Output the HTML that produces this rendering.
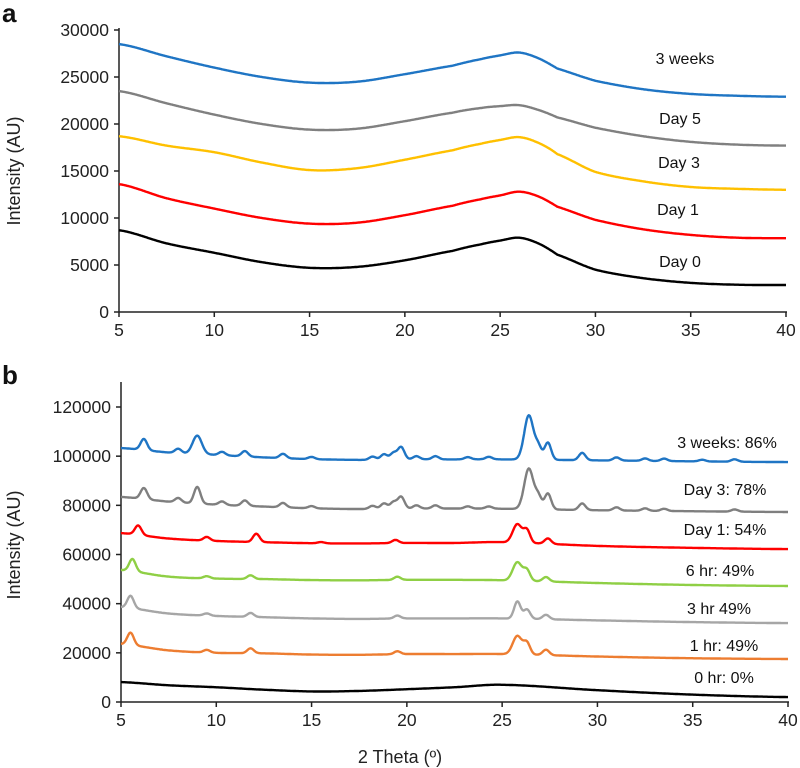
<!DOCTYPE html>
<html><head><meta charset="utf-8"><style>
html,body{margin:0;padding:0;background:#fff;}
svg{display:block;font-family:"Liberation Sans",Arial,sans-serif;}
</style></head><body>
<svg id="chart" width="800" height="768" viewBox="0 0 800 768"></svg>
<script>
// ---------- Panel a data ----------
const aKnots = [5,7.5,10,12.5,15,17.5,20,22.5,24,25,26,27,28,30,32.5,35,37.5,40];
const aNames = ["3 weeks","Day 5","Day 3","Day 1","Day 0"];
const a3weeks = [28500,27200,26000,25000,24400,24500,25300,26200,26900,27300,27600,27000,25900,24600,23700,23200,23000,22900];
const aDay5 = [23500,22200,21000,20000,19400,19500,20300,21200,21700,21900,22000,21500,20700,19600,18700,18100,17800,17700];
const aDay3 = [18700,17700,17000,15900,15100,15300,16200,17200,17900,18300,18600,18000,16800,14900,13900,13300,13100,13000];
const aDay1 = [13600,12100,11000,10000,9400,9500,10300,11300,12000,12400,12800,12300,11200,9800,8800,8200,7900,7850];
const aDay0 = [8700,7300,6300,5300,4700,4800,5500,6500,7200,7600,7900,7300,6100,4500,3600,3100,2900,2870];
const aYTicks = [0,5000,10000,15000,20000,25000,30000];
const xTicks = [5,10,15,20,25,30,35,40];

// ---------- Panel b data ----------
const bKnots = [5,7.5,10,12.5,15,17.5,20,22.5,25,30,35,40];
const bNames = ["3 weeks: 86%","Day 3: 78%","Day 1: 54%","6 hr: 49%","3 hr 49%","1 hr: 49%","0 hr: 0%"];
const b3wBase = [103300,101500,100500,99500,98800,98500,98700,98700,98700,98300,97900,97600];
const bD3Base = [83400,81500,80300,79500,78800,78500,78700,78700,78600,78000,77600,77300];
const bD1Base = [68700,66500,65500,65000,64600,64500,64700,64700,65000,63500,62700,62200];
const b6hBase = [53700,51000,50200,50000,49600,49500,49700,49700,49500,48400,47600,47200];
const b3hBase = [38600,36000,35000,34500,34000,33800,34000,34000,34000,33200,32500,32100];
const b1hBase = [23600,21000,20000,19800,19300,19200,19500,19500,19500,18500,17800,17500];
const b0hBase = [8100,6800,6000,5000,4300,4500,5200,6000,7000,4800,3000,2000];
const b3wPos = [6.2,8.0,9.0,10.3,11.5,13.5,15.0,18.2,18.8,19.3,19.7,20.5,21.5,23.2,24.3,26.4,26.9,27.4,29.2,31.0,32.5,33.5,35.5,37.2];
const b3wH   = [4500,1800,7500,1400,2200,1800,900,1300,2200,2700,5000,1300,1300,900,1000,18000,5000,7000,3000,1300,1000,1000,700,1000];
const bD3Pos = [6.2,8.0,9.0,10.3,11.5,13.5,15.0,18.2,18.8,19.3,19.7,20.5,21.5,23.2,24.3,26.4,26.9,27.4,29.2,31.0,32.5,33.5,37.2];
const bD3H   = [4500,1800,6800,1400,2200,1800,900,1300,2200,2700,4800,1300,1300,900,900,16500,5000,6500,2700,1300,1000,900,900];
const bD1Pos = [5.9,9.5,12.1,15.5,19.4,25.8,26.3,27.4];
const bD1H   = [3800,1500,3400,500,1300,7500,5000,2200];
const b6hPos = [5.6,9.5,11.8,19.5,25.8,26.3,27.3];
const b6hH   = [5000,900,1500,1300,7500,4200,1800];
const b3hPos = [5.5,9.5,11.8,19.5,25.8,26.3,27.3];
const b3hH   = [5000,900,1600,1200,7000,3800,1800];
const b1hPos = [5.5,9.5,11.8,19.5,25.8,26.3,27.3];
const b1hH   = [5000,1100,2000,1200,7500,4600,2200];
const b0hPos = [];
const b0hH   = [];
const bYTicks = [0,20000,40000,60000,80000,100000,120000];

const NS = "http://www.w3.org/2000/svg";
const svg = document.getElementById('chart');
function mk(tag, attrs, parent){ const e=document.createElementNS(NS,tag); for(const k in attrs) e.setAttribute(k,attrs[k]); (parent||svg).appendChild(e); return e; }

const axA = {x0:119,x1:786,y0:312,y1:30,vmax:30000};
const axB = {x0:121,x1:788,y0:702,y1:407,vmax:120000};
function sx(ax,t){ return ax.x0 + (t-5)/35*(ax.x1-ax.x0); }
function sy(ax,v){ return ax.y0 - v/ax.vmax*(ax.y0-ax.y1); }

function interp(knots, vals, t){
  let i=0; while(i<knots.length-2 && t>knots[i+1]) i++;
  const p0=vals[Math.max(0,i-1)], p1=vals[i], p2=vals[i+1], p3=vals[Math.min(vals.length-1,i+2)];
  const u=(t-knots[i])/(knots[i+1]-knots[i]);
  const u2=u*u,u3=u2*u;
  return 0.5*((2*p1)+(-p0+p2)*u+(2*p0-5*p1+4*p2-p3)*u2+(-p0+3*p1-3*p2+p3)*u3);
}
function peakSum(pos, h, t){
  let s=0; for(let k=0;k<pos.length;k++){ const w = h[k]>7000?0.34:0.24; const d=(t-pos[k])/w; s+=h[k]*Math.exp(-d*d); } return s;
}

function drawAxes(ax, yticks, g, name){
  mk('line',{x1:ax.x0,y1:ax.y0,x2:ax.x1+1,y2:ax.y0,stroke:'#222','stroke-width':1.5},g);
  mk('line',{x1:ax.x0,y1:ax.y0,x2:ax.x0,y2:(name==='b'?382:28),stroke:'#222','stroke-width':1.5},g);
  yticks.forEach(v=>{
    const y=sy(ax,v);
    mk('line',{x1:ax.x0-5,y1:y,x2:ax.x0,y2:y,stroke:'#222','stroke-width':1.5},g);
    const t=mk('text',{x:ax.x0-10,y:y+6,'text-anchor':'end','font-size':17.5,fill:'#222'},g);
    
    
    t.textContent=v;
  });
  xTicks.forEach(v=>{
    const x=sx(ax,v);
    mk('line',{x1:x,y1:ax.y0,x2:x,y2:ax.y0+5,stroke:'#222','stroke-width':1.5},g);
    const t=mk('text',{x:x,y:ax.y0+24,'text-anchor':'middle','font-size':17.5,fill:'#222'},g);
    
    
    t.textContent=v;
  });
}
function drawLine(ax, fn, color, g, name){
  let d='';
  for(let t=5;t<=40.0001;t+=0.05){ d+=(d?'L':'M')+sx(ax,t).toFixed(1)+','+sy(ax,fn(t)).toFixed(1); }
  const p=mk('path',{d:d,fill:'none',stroke:color,'stroke-width':2.4,'stroke-linejoin':'round'},g);
  
  
}
function label(x,y,txt,g){
  const t=mk('text',{x:x,y:y,'text-anchor':'middle','font-size':16,fill:'#111'},g);
  
  
  t.textContent=txt;
}

const gA = mk('g',{});


const la=mk('text',{x:2,y:22,'font-size':26,'font-weight':'bold',fill:'#111'},gA);


la.textContent='a';
drawAxes(axA,aYTicks,gA,'a');
const yta=mk('text',{x:0,y:0,transform:'translate(20,171) rotate(-90)','text-anchor':'middle','font-size':18,fill:'#222'},gA);


yta.textContent='Intensity (AU)';
const aSeries=[a3weeks,aDay5,aDay3,aDay1,aDay0];
const aColors=['#1f75c4','#808080','#ffc000','#ff0000','#000000'];
const aLabelPos=[[685,64],[680,124],[679,168],[678,215],[680,267]];
aSeries.forEach((s,i)=>{ drawLine(axA,t=>interp(aKnots,s,t),aColors[i],gA,'a-line-'+i); label(aLabelPos[i][0],aLabelPos[i][1],aNames[i],gA); });

const gB = mk('g',{});


const lb=mk('text',{x:2,y:384,'font-size':26,'font-weight':'bold',fill:'#111'},gB);


lb.textContent='b';
drawAxes(axB,bYTicks,gB,'b');
const ytb=mk('text',{x:0,y:0,transform:'translate(20,545) rotate(-90)','text-anchor':'middle','font-size':18,fill:'#222'},gB);


ytb.textContent='Intensity (AU)';
const xtb=mk('text',{x:400,y:763,'text-anchor':'middle','font-size':18,fill:'#222'},gB);


xtb.textContent='2 Theta (º)';
const bBases=[b3wBase,bD3Base,bD1Base,b6hBase,b3hBase,b1hBase,b0hBase];
const bPos=[b3wPos,bD3Pos,bD1Pos,b6hPos,b3hPos,b1hPos,b0hPos];
const bH=[b3wH,bD3H,bD1H,b6hH,b3hH,b1hH,b0hH];
const bColors=['#1f75c4','#7f7f7f','#ff0000','#8fcf45','#a6a6a6','#ed7d31','#000000'];
const bLabelPos=[[727,448],[725,495],[725,535],[720,576],[719,614],[724,651],[724,683]];
bBases.forEach((s,i)=>{ drawLine(axB,t=>interp(bKnots,s,t)+peakSum(bPos[i],bH[i],t),bColors[i],gB,'b-line-'+i); label(bLabelPos[i][0],bLabelPos[i][1],bNames[i],gB); });
</script>
</body></html>
